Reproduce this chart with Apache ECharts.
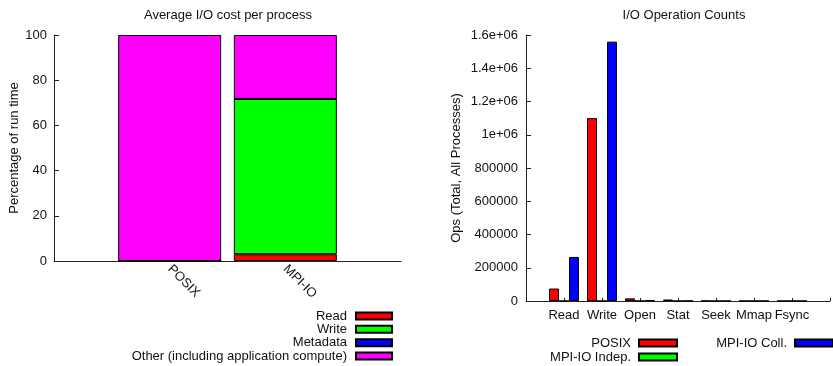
<!DOCTYPE html>
<html><head><meta charset="utf-8">
<script src="https://cdn.jsdelivr.net/npm/echarts@6/dist/echarts.min.js"></script>
<style>html,body{margin:0;padding:0;background:#fff}#c{width:833px;height:366px}</style>
</head><body><div id="c"></div>
<script>
// Left chart: Average I/O cost per process (percentage of run time)
const costCategories = ["", "POSIX", "MPI-IO", ""];
const costRead     = [null, 0, 3.0, null];
const costWrite    = [null, 0, 68.7, null];
const costMetadata = [null, 0, 0, null];
const costOther    = [null, 100, 28.3, null];
const costTicks = [0, 20, 40, 60, 80, 100];

// Right chart: I/O Operation Counts
const opCategories = ["", "Read", "Write", "Open", "Stat", "Seek", "Mmap", "Fsync", ""];
const opPosix     = [null, 75000, 1100000, 16000, 9000, 1000, 500, 500, null];
const opMpiIndep  = [null, 0, 0, 0, 0, 0, 0, 0, null];
const opMpiColl   = [null, 265000, 1560000, 5000, 1000, 500, 500, 500, null];
const opTicks = ["0", "200000", "400000", "600000", "800000", "1e+06", "1.2e+06", "1.4e+06", "1.6e+06"];

const FONT = "Liberation Sans";
const FS = 13;
const TXT = "#111";
const AX = "#222";
const border = {borderColor: "#000", borderWidth: 1};

const chart = echarts.init(document.getElementById('c'), null, {renderer: 'canvas'});
const opt = {
  animation: false,
  textStyle: {fontFamily: FONT, fontSize: FS, color: TXT},
  title: [
    {text: "Average I/O cost per process", left: 228, top: 9, textAlign: 'center', padding: 0,
     textStyle: {fontFamily: FONT, fontSize: FS, fontWeight: 'normal', color: TXT}},
    {text: "I/O Operation Counts", left: 684, top: 9, textAlign: 'center', padding: 0,
     textStyle: {fontFamily: FONT, fontSize: FS, fontWeight: 'normal', color: TXT}}
  ],
  legend: [
    {data: ["Read", "Write", "Metadata", "Other (including application compute)"],
     orient: 'vertical', align: 'right', right: 440, top: 309.5, itemWidth: 36, itemHeight: 7, itemGap: 0.33,
     padding: 0, selectedMode: false, icon: 'rect',
     textStyle: {fontFamily: FONT, fontSize: FS, color: TXT, lineHeight: 13, padding: [0, 4, 0, 0]}},
    {data: ["POSIX", "MPI-IO Indep."],
     orient: 'vertical', align: 'right', right: 155, top: 336.5, itemWidth: 38, itemHeight: 7, itemGap: 1,
     padding: 0, selectedMode: false, icon: 'rect',
     textStyle: {fontFamily: FONT, fontSize: FS, color: TXT, lineHeight: 13, padding: [0, 3, 0, 0]}},
    {data: ["MPI-IO Coll."],
     orient: 'vertical', align: 'right', right: -1, top: 336.5, itemWidth: 38, itemHeight: 7,
     padding: 0, selectedMode: false, icon: 'rect',
     textStyle: {fontFamily: FONT, fontSize: FS, color: TXT, lineHeight: 13, padding: [0, 3, 0, 0]}}
  ],
  grid: [
    {left: 54, top: 35, width: 347, height: 226},
    {left: 526, top: 35, width: 316, height: 266}
  ],
  xAxis: [
    {type: 'category', gridIndex: 0, data: costCategories, boundaryGap: false,
     axisLine: {lineStyle: {color: AX, width: 1}}, axisTick: {show: false},
     axisLabel: {rotate: -45, margin: 6, color: TXT, fontFamily: FONT, fontSize: FS, interval: 0}},
    {type: 'category', gridIndex: 1, data: opCategories, boundaryGap: false,
     axisLine: {lineStyle: {color: AX, width: 1}},
     axisTick: {show: true, inside: true, length: 3, interval: 0, lineStyle: {color: AX}},
     axisLabel: {margin: 8, color: TXT, fontFamily: FONT, fontSize: FS, interval: 0}}
  ],
  yAxis: [
    {type: 'value', gridIndex: 0, min: costTicks[0], max: costTicks[costTicks.length - 1],
     interval: costTicks[1] - costTicks[0],
     name: "Percentage of run time", nameLocation: 'middle', nameGap: 30.5,
     nameTextStyle: {fontFamily: FONT, fontSize: FS, color: TXT},
     axisLine: {show: true, lineStyle: {color: AX}},
     axisTick: {show: true, inside: true, length: 5, lineStyle: {color: AX}},
     splitLine: {show: false},
     axisLabel: {margin: 7, color: TXT, fontFamily: FONT, fontSize: FS}},
    {type: 'value', gridIndex: 1, min: 0, max: 1600000, interval: 200000,
     name: "Ops (Total, All Processes)", nameLocation: 'middle', nameGap: 63.5,
     nameTextStyle: {fontFamily: FONT, fontSize: FS, color: TXT},
     axisLine: {show: true, lineStyle: {color: AX}},
     axisTick: {show: true, inside: true, length: 5, lineStyle: {color: AX}},
     splitLine: {show: false},
     axisLabel: {margin: 8, color: TXT, fontFamily: FONT, fontSize: FS,
       formatter: (v) => opTicks[Math.round(v / 200000)]}}
  ],
  series: [
    {name: "Read", type: 'bar', stack: 'cost', xAxisIndex: 0, yAxisIndex: 0, barWidth: 103,
     data: costRead, itemStyle: Object.assign({color: '#ff0000'}, border)},
    {name: "Write", type: 'bar', stack: 'cost', xAxisIndex: 0, yAxisIndex: 0, barWidth: 103,
     data: costWrite, itemStyle: Object.assign({color: '#00ff00'}, border)},
    {name: "Metadata", type: 'bar', stack: 'cost', xAxisIndex: 0, yAxisIndex: 0, barWidth: 103,
     data: costMetadata, itemStyle: Object.assign({color: '#0000ff'}, border)},
    {name: "Other (including application compute)", type: 'bar', stack: 'cost', xAxisIndex: 0, yAxisIndex: 0, barWidth: 103,
     data: costOther, itemStyle: Object.assign({color: '#ff00ff'}, border)},
    {name: "POSIX", type: 'bar', xAxisIndex: 1, yAxisIndex: 1, barWidth: 10, barGap: '0%',
     data: opPosix, itemStyle: Object.assign({color: '#ff0000'}, border)},
    {name: "MPI-IO Indep.", type: 'bar', xAxisIndex: 1, yAxisIndex: 1, barWidth: 10, barGap: '0%',
     data: opMpiIndep, itemStyle: Object.assign({color: '#00ff00'}, border)},
    {name: "MPI-IO Coll.", type: 'bar', xAxisIndex: 1, yAxisIndex: 1, barWidth: 10, barGap: '0%',
     data: opMpiColl, itemStyle: Object.assign({color: '#0000ff'}, border)}
  ]
};
chart.setOption(opt);
</script>
</body></html>
